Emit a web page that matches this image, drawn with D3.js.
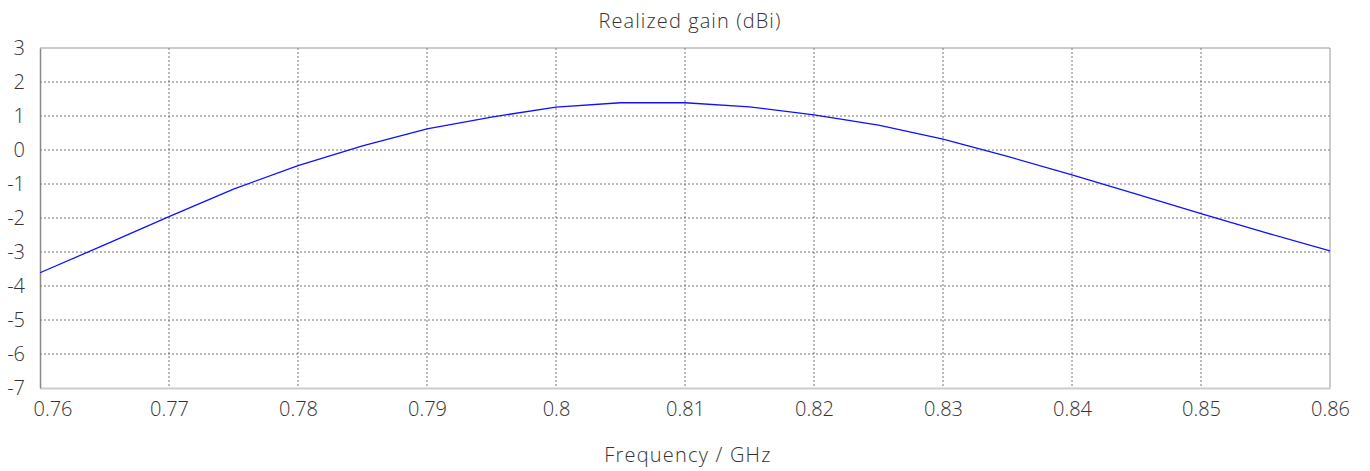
<!DOCTYPE html>
<html>
<head>
<meta charset="utf-8">
<script src="https://cdn.jsdelivr.net/npm/d3@7"></script>
<style>
  html, body { margin: 0; padding: 0; background: #fff; }
  svg text { font-family: "Open Sans", Lato, sans-serif; font-weight: 300; fill: #333; }
</style>
</head>
<body>
<svg id="chart" width="1370" height="471"></svg>
<script>
const frequency = [0.760, 0.765, 0.770, 0.775, 0.780, 0.785, 0.790, 0.795, 0.800, 0.805, 0.810,
                   0.815, 0.820, 0.825, 0.830, 0.835, 0.840, 0.845, 0.850, 0.855, 0.860];
const gain = [-3.61, -2.79, -1.96, -1.15, -0.46, 0.12, 0.62, 0.97, 1.26, 1.39, 1.39,
              1.27, 1.03, 0.73, 0.32, -0.19, -0.73, -1.30, -1.87, -2.43, -2.97];
const xTicks = [0.76, 0.77, 0.78, 0.79, 0.80, 0.81, 0.82, 0.83, 0.84, 0.85, 0.86];
const yTicks = [3, 2, 1, 0, -1, -2, -3, -4, -5, -6, -7];
const title = "Realized gain (dBi)";
const xLabel = "Frequency / GHz";

const svg = d3.select("#chart");
const L = 40, R = 1330, T = 48, B = 388;

const x = d3.scaleLinear().domain([0.76, 0.86]).range([L, R]);
const y = d3.scaleLinear().domain([-7, 3]).range([B, T]);

// grid
const grid = svg.append("g");
grid.selectAll("line.v").data(xTicks.slice(1, -1)).enter().append("line")
  .attr("x1", d => x(d)).attr("x2", d => x(d)).attr("y1", T).attr("y2", B)
  .attr("stroke", "#777").attr("stroke-width", 1).attr("stroke-dasharray", "2,2");
grid.selectAll("line.h").data(yTicks.slice(1, -1)).enter().append("line")
  .attr("x1", L).attr("x2", R).attr("y1", d => y(d)).attr("y2", d => y(d))
  .attr("stroke", "#777").attr("stroke-width", 1).attr("stroke-dasharray", "2,2");

// frame
svg.append("line").attr("x1", L).attr("x2", R).attr("y1", T).attr("y2", T).attr("stroke", "#999");
svg.append("line").attr("x1", R).attr("x2", R).attr("y1", T).attr("y2", B).attr("stroke", "#999");

// axes
const xAxis = d3.axisBottom(x).tickValues(xTicks).tickSize(0).tickPadding(14)
  .tickFormat(d => String(+d.toFixed(2)));
const gx = svg.append("g").attr("transform", `translate(0,${B})`).call(xAxis);
gx.select(".domain").attr("stroke", "#ccc").attr("stroke-width", 2);
gx.selectAll("text").style("font-size", "20px").attr("fill", "#333");
// first label kept inside the frame, as in the reference
gx.selectAll(".tick").filter(d => d === xTicks[0]).select("text")
  .attr("text-anchor", "start").attr("dx", "-7");

const yAxis = d3.axisLeft(y).tickValues(yTicks).tickSize(0).tickPadding(15)
  .tickFormat(d => String(d));
const gy = svg.append("g").attr("transform", `translate(${L},0)`).call(yAxis);
gy.select(".domain").attr("stroke", "#888").attr("stroke-width", 1.5);
gy.selectAll("text").style("font-size", "20px").attr("fill", "#333");

// line
const line = d3.line().x((d, i) => x(frequency[i])).y(d => y(d));
svg.append("path").datum(gain).attr("d", line)
  .attr("fill", "none").attr("stroke", "#1010ff").attr("stroke-width", 1.3);

// titles
svg.append("text").attr("x", 690).attr("y", 28).attr("text-anchor", "middle")
  .style("font-size", "20px").style("letter-spacing", "1.1px").text(title);
svg.append("text").attr("x", 688).attr("y", 462).attr("text-anchor", "middle")
  .style("font-size", "20px").style("letter-spacing", "1.2px").text(xLabel);
</script>
</body>
</html>
